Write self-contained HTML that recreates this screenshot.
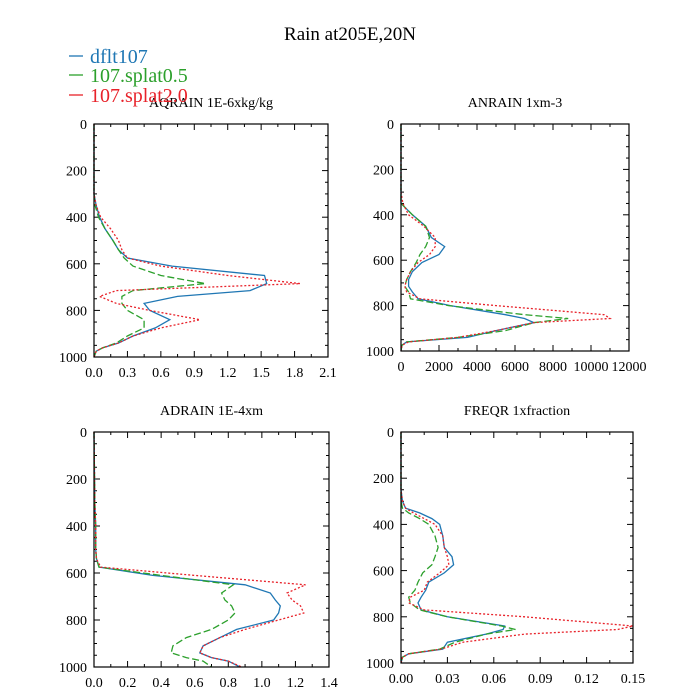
<!DOCTYPE html>
<html><head><meta charset="utf-8"><style>
html,body{margin:0;padding:0;background:#fff;}
svg{display:block;font-family:"Liberation Serif",serif;}
</style></head><body>
<svg id="chart" width="700" height="700" viewBox="0 0 700 700">
<text x="350" y="40" text-anchor="middle" font-size="19">Rain at205E,20N</text>
</svg>
<script>
const seriesNames = ["dflt107","107.splat0.5","107.splat2.0"];
const seriesColors = ["#1f77b4","#2ca02c","#e8222a"];
const seriesDash = ["none","7,3","2,2"];

// Panel 1: AQRAIN
const p1Levels = [0,300,350,400,450,500,540,575,610,650,685,715,740,770,800,840,875,910,940,960,975,1000];
const p1Blue  = [0,0,0.02,0.05,0.1,0.17,0.22,0.3,0.7,1.53,1.55,1.4,0.75,0.45,0.5,0.68,0.55,0.35,0.22,0.08,0.02,0];
const p1Green = [0,0,0.01,0.04,0.1,0.17,0.22,0.27,0.35,0.6,1.0,0.35,0.25,0.25,0.3,0.45,0.45,0.3,0.2,0.08,0.02,0];
const p1Red   = [0,0,0.02,0.06,0.15,0.22,0.25,0.3,0.6,1.2,1.85,0.2,0.05,0.2,0.5,0.95,0.6,0.35,0.22,0.08,0.02,0];
const p1XTicks = ["0.0","0.3","0.6","0.9","1.2","1.5","1.8","2.1"];

// Panel 2: ANRAIN
const p2Levels = [0,300,350,400,450,500,540,575,610,650,685,715,740,770,800,840,857,875,910,940,960,975,1000];
const p2Blue  = [0,0,0,600,1300,1600,2300,2000,1100,600,400,400,600,900,2600,5500,6500,7000,5000,3500,300,50,0];
const p2Green = [0,0,0,600,1300,1500,1300,1000,800,500,300,200,400,500,2500,6500,8800,7000,5500,3000,300,50,0];
const p2Red   = [0,0,100,400,1200,1800,1800,1500,900,500,300,200,300,1000,5000,10700,11000,7000,5000,3000,400,50,0];
const p2XTicks = ["0","2000","4000","6000","8000","10000","12000"];

// Panel 3: ADRAIN
const p3Levels = [0,300,400,500,540,575,610,650,685,715,740,770,800,840,875,910,940,960,975,1000];
const p3Blue  = [0,0.005,0.01,0.01,0.015,0.03,0.35,0.9,1.05,1.08,1.11,1.1,1.07,0.85,0.75,0.65,0.63,0.7,0.8,0.87];
const p3Green = [0,0.005,0.01,0.01,0.015,0.03,0.4,0.83,0.76,0.78,0.82,0.84,0.8,0.7,0.55,0.47,0.46,0.55,0.65,0.7];
const p3Red   = [0,0.005,0.01,0.01,0.015,0.04,0.6,1.26,1.15,1.18,1.23,1.25,1.1,0.9,0.75,0.65,0.63,0.7,0.8,0.88];
const p3XTicks = ["0.0","0.2","0.4","0.6","0.8","1.0","1.2","1.4"];

// Panel 4: FREQR
const p4Levels = [0,250,300,330,350,375,400,450,500,540,575,610,650,685,715,740,770,800,840,855,875,910,940,960,975,1000];
const p4Blue  = [0,0,0.001,0.003,0.012,0.02,0.025,0.027,0.028,0.033,0.034,0.028,0.018,0.016,0.013,0.011,0.013,0.03,0.067,0.066,0.055,0.03,0.027,0.005,0.001,0];
const p4Green = [0,0,0,0.001,0.005,0.012,0.018,0.022,0.024,0.022,0.02,0.014,0.011,0.009,0.005,0.006,0.012,0.03,0.065,0.074,0.055,0.035,0.025,0.005,0.001,0];
const p4Red   = [0,0,0.001,0.003,0.008,0.015,0.022,0.027,0.028,0.03,0.031,0.025,0.017,0.015,0.006,0.005,0.015,0.08,0.15,0.14,0.08,0.04,0.026,0.005,0.001,0];
const p4XTicks = ["0.00","0.03","0.06","0.09","0.12","0.15"];

const yTicks = ["0","200","400","600","800","1000"];

const NS = "http://www.w3.org/2000/svg";
const svg = document.getElementById("chart");
function mk(tag, attrs, parent){
  const e = document.createElementNS(NS, tag);
  for (const k in attrs) e.setAttribute(k, attrs[k]);
  (parent||svg).appendChild(e);
  return e;
}

const panels = [
  {name:"aqrain", title:"AQRAIN  1E-6xkg/kg", box:[94,124,328,357], levels:p1Levels, series:[p1Blue,p1Green,p1Red], xt:p1XTicks},
  {name:"anrain", title:"ANRAIN  1xm-3", box:[401,124,629,351], levels:p2Levels, series:[p2Blue,p2Green,p2Red], xt:p2XTicks},
  {name:"adrain", title:"ADRAIN  1E-4xm", box:[94,432,329,667], levels:p3Levels, series:[p3Blue,p3Green,p3Red], xt:p3XTicks},
  {name:"freqr", title:"FREQR  1xfraction", box:[401,432,633,663], levels:p4Levels, series:[p4Blue,p4Green,p4Red], xt:p4XTicks}
];

panels.forEach(p => {
  const [x0,y0,x1,y1] = p.box;
  const xmax = parseFloat(p.xt[p.xt.length-1]);
  const xs = v => x0 + v / xmax * (x1 - x0);
  const ys = v => y0 + v / 1000 * (y1 - y0);
  const g = mk("g", {});
  
  
  const t = mk("text", {x:(x0+x1)/2, y:y0-17, "text-anchor":"middle", "font-size":"14"}, g);
  t.textContent = p.title;
  
  
  const nx = p.xt.length - 1;
  for (let i = 0; i <= nx*2; i++) {
    const x = x0 + i/(nx*2)*(x1-x0);
    const L = i%2===0 ? 6 : 3;
    mk("line", {x1:x, y1:y1, x2:x, y2:y1-L, stroke:"#000", "stroke-width":1}, g);
    mk("line", {x1:x, y1:y0, x2:x, y2:y0+L, stroke:"#000", "stroke-width":1}, g);
  }
  p.xt.forEach((lab, i) => {
    const tx = mk("text", {x:x0 + i/nx*(x1-x0), y:y1+20, "text-anchor":"middle", "font-size":"14"}, g);
    tx.textContent = lab;
    
    
  });
  for (let i = 0; i <= 20; i++) {
    const y = ys(i*50);
    const L = i%4===0 ? 6 : 3;
    mk("line", {x1:x0, y1:y, x2:x0+L, y2:y, stroke:"#000", "stroke-width":1}, g);
    mk("line", {x1:x1, y1:y, x2:x1-L, y2:y, stroke:"#000", "stroke-width":1}, g);
  }
  yTicks.forEach(lab => {
    const ty = mk("text", {x:x0-7, y:ys(parseFloat(lab))+5, "text-anchor":"end", "font-size":"14"}, g);
    ty.textContent = lab;
    
    
  });
  p.series.forEach((vals, si) => {
    const d = vals.map((v,i) => (i?"L":"M") + xs(v).toFixed(1) + "," + ys(p.levels[i]).toFixed(1)).join(" ");
    const path = mk("path", {d:d, fill:"none", stroke:seriesColors[si], "stroke-width":1.3, "stroke-dasharray":seriesDash[si]}, g);
    
    
  });
  const frame = mk("rect", {x:x0, y:y0, width:x1-x0, height:y1-y0, fill:"none", stroke:"#000", "stroke-width":1.2}, g);
  
  
});

const legY = [63, 82, 102];
seriesNames.forEach((n, i) => {
  const lg = mk("g", {});
  
  
  mk("line", {x1:69, y1:legY[i]-7, x2:83, y2:legY[i]-7, stroke:seriesColors[i], "stroke-width":1.3}, lg);
  const tt = mk("text", {x:90, y:legY[i], "font-size":"20", fill:seriesColors[i]}, lg);
  tt.textContent = n;
});
</script>
</body></html>
